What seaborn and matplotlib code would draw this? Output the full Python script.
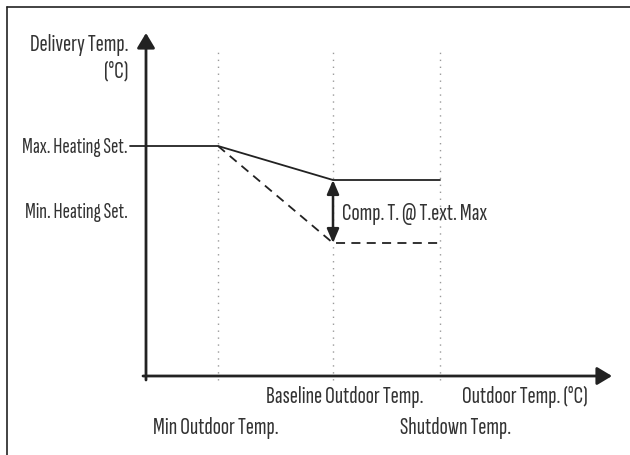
import matplotlib
matplotlib.use("Agg")
import matplotlib.pyplot as plt
from matplotlib.lines import Line2D
import seaborn as sns

# ---- data (arbitrary axis units) ----
x_points = [0, 72, 187, 294]          # y-axis, Min Outdoor, Baseline, Shutdown
y_solid = [230, 230, 196, 196]        # Max heating set -> compensated level
x_dashed = [72, 187, 294]
y_dashed = [230, 133, 133]            # Max heating set -> min heating set level
guide_x = [72, 187, 294]              # dotted vertical guides
x_axis_end = 466
y_axis_end = 343
guide_top = 324
comp_top, comp_bottom = 196, 133

sns.set_theme(style="white")
plt.rcParams["font.family"] = ["Sofia Sans Extra Condensed", "Roboto Condensed", "DejaVu Sans"]

W, H = 630, 455
fig = plt.figure(figsize=(W / 100, H / 100), dpi=100)
fig.patch.set_facecolor("white")
ax = fig.add_axes([146 / W, (H - 376) / H, x_axis_end / W, y_axis_end / H])
ax.set_xlim(0, x_axis_end)
ax.set_ylim(0, y_axis_end)
ax.axis("off")

ink = "#222222"
txt = "#333333"

# dotted guides
for gx in guide_x:
    ax.plot([gx, gx], [-4, guide_top], color="#9a9a9a", lw=1.0,
            linestyle=(0, (1, 4)), clip_on=False, zorder=1)

# curves
sns.lineplot(x=x_points, y=y_solid, sort=False, color=ink, lw=1.3, ax=ax,
             estimator=None, zorder=3)
sns.lineplot(x=x_dashed, y=y_dashed, sort=False, color=ink, lw=1.3, ax=ax,
             estimator=None, zorder=3, linestyle=(0, (5, 3.5)))
ax.plot([-16, 0], [y_solid[0], y_solid[0]], color=ink, lw=1.3, clip_on=False)

# axes arrows
ax.annotate("", xy=(x_axis_end, 0), xytext=(-3, 0),
            arrowprops=dict(arrowstyle="-|>,head_length=0.75,head_width=0.45",
                            color=ink, lw=2.0, shrinkA=0, shrinkB=0),
            annotation_clip=False)
ax.annotate("", xy=(0, y_axis_end), xytext=(0, -4),
            arrowprops=dict(arrowstyle="-|>,head_length=0.75,head_width=0.45",
                            color=ink, lw=2.0, shrinkA=0, shrinkB=0),
            annotation_clip=False)

# compensation double arrow
ax.annotate("", xy=(x_points[2], comp_bottom), xytext=(x_points[2], comp_top),
            arrowprops=dict(arrowstyle="<|-|>,head_length=0.7,head_width=0.3",
                            color=ink, lw=1.8, shrinkA=0, shrinkB=0),
            annotation_clip=False)

fs = 17.6
fs_small = 16.0
kw = dict(color=txt, va="baseline", clip_on=False, fontweight="light")
ax.text(-18, 325, "Delivery Temp.", ha="right", fontsize=fs, **kw)
ax.text(-18, 299, "(°C)", ha="right", fontsize=fs, **kw)
ax.text(-18, 223, "Max. Heating Set.", ha="right", fontsize=fs_small, **kw)
ax.text(-18, 158, "Min. Heating Set.", ha="right", fontsize=fs_small, **kw)
ax.text(196, 156, "Comp. T. @ T.ext. Max", ha="left", fontsize=fs, **kw)
ax.text(120, -27, "Baseline Outdoor Temp.", ha="left", fontsize=fs, **kw)
ax.text(316, -27, "Outdoor Temp. (°C)", ha="left", fontsize=fs, **kw)
ax.text(7, -58, "Min Outdoor Temp.", ha="left", fontsize=fs, **kw)
ax.text(254, -58, "Shutdown Temp.", ha="left", fontsize=fs, **kw)

# outer frame (left and top only)
fig.add_artist(Line2D([7 / W, 7 / W], [0, 1 - 7 / H], transform=fig.transFigure,
                      color=ink, lw=1.2))
fig.add_artist(Line2D([7 / W, 1], [1 - 7 / H, 1 - 7 / H], transform=fig.transFigure,
                      color=ink, lw=1.2))

fig.savefig("out.png", dpi=100)
